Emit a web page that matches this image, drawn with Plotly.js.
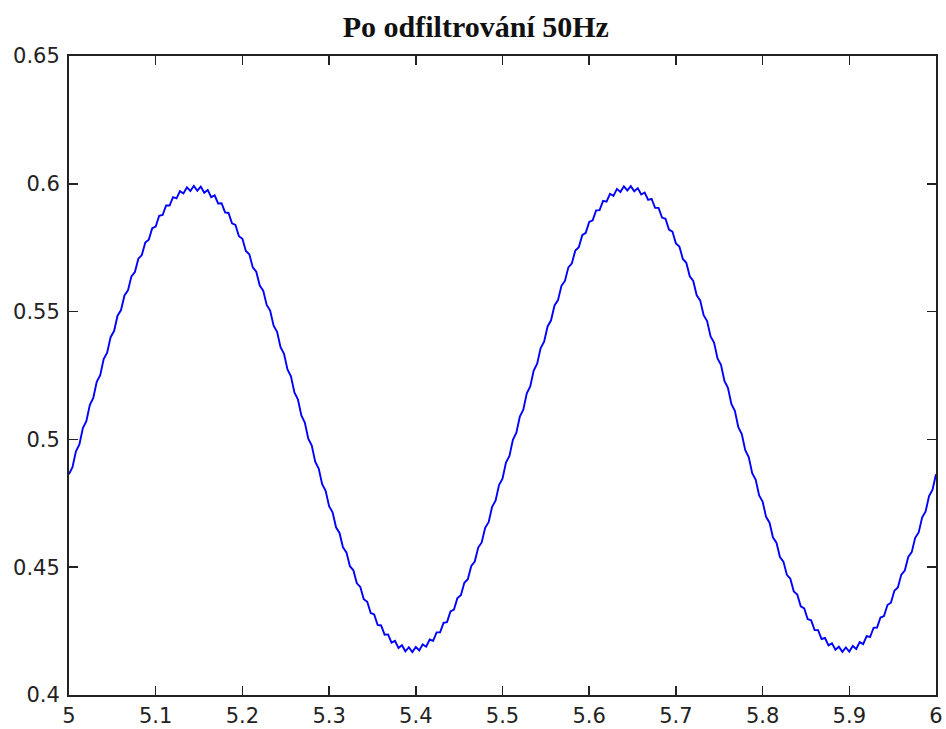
<!DOCTYPE html>
<html>
<head>
<meta charset="utf-8">
<script src="https://cdn.plot.ly/plotly-3.0.1.min.js"></script>
<style>html,body{margin:0;padding:0;background:#fff;}#chart{width:946px;height:729px;}</style>
</head>
<body>
<div id="chart"></div>
<script>
// Time axis: samples start at 5 s, one every 0.004 s
const timeStart = 5;
const timeStep = 0.004;

// Signal after filtering out 50 Hz
const signal = [
0.4864,0.4891,0.4953,0.4980,0.5044,0.5071,0.5134,0.5162,0.5225,0.5251,
0.5314,0.5339,0.5400,0.5424,0.5484,0.5506,0.5563,0.5583,0.5638,0.5655,
0.5707,0.5721,0.5770,0.5781,0.5826,0.5833,0.5875,0.5878,0.5915,0.5915,
0.5948,0.5943,0.5971,0.5962,0.5986,0.5972,0.5992,0.5973,0.5989,0.5965,
0.5976,0.5948,0.5955,0.5923,0.5924,0.5888,0.5886,0.5845,0.5839,0.5795,
0.5785,0.5737,0.5724,0.5673,0.5656,0.5602,0.5582,0.5526,0.5504,0.5445,
0.5421,0.5361,0.5335,0.5274,0.5247,0.5184,0.5157,0.5094,0.5066,0.5003,
0.4976,0.4913,0.4886,0.4825,0.4799,0.4739,0.4715,0.4656,0.4634,0.4578,
0.4558,0.4504,0.4488,0.4437,0.4423,0.4375,0.4365,0.4321,0.4315,0.4274,
0.4272,0.4236,0.4237,0.4205,0.4212,0.4184,0.4195,0.4171,0.4187,0.4168,
0.4188,0.4174,0.4198,0.4189,0.4217,0.4212,0.4245,0.4245,0.4282,0.4285,
0.4327,0.4334,0.4379,0.4390,0.4439,0.4453,0.4505,0.4522,0.4577,0.4597,
0.4654,0.4676,0.4736,0.4760,0.4821,0.4846,0.4909,0.4935,0.4998,0.5026,
0.5089,0.5116,0.5180,0.5207,0.5269,0.5296,0.5357,0.5382,0.5442,0.5466,
0.5524,0.5545,0.5601,0.5620,0.5673,0.5689,0.5739,0.5752,0.5799,0.5808,
0.5851,0.5857,0.5896,0.5897,0.5933,0.5930,0.5961,0.5953,0.5980,0.5968,
0.5990,0.5974,0.5991,0.5971,0.5983,0.5958,0.5966,0.5937,0.5941,0.5906,
0.5906,0.5868,0.5863,0.5821,0.5813,0.5767,0.5755,0.5706,0.5691,0.5638,
0.5620,0.5564,0.5544,0.5486,0.5463,0.5403,0.5379,0.5317,0.5292,0.5229,
0.5202,0.5139,0.5112,0.5048,0.5021,0.4958,0.4931,0.4868,0.4843,0.4781,
0.4757,0.4697,0.4674,0.4616,0.4596,0.4540,0.4522,0.4470,0.4455,0.4405,
0.4393,0.4347,0.4339,0.4297,0.4292,0.4254,0.4254,0.4219,0.4223,0.4194,
0.4202,0.4177,0.4189,0.4169,0.4186,0.4170,0.4192,0.4180,0.4207,0.4199,
0.4230,0.4227,0.4263,0.4264,0.4303,0.4309,0.4352,0.4361,0.4408,0.4421,
0.4471,0.4487,0.4540,0.4559,0.4615,0.4636,0.4694,0.4718,0.4778,0.4803,
0.4864
];

const xTickVals = [5, 5.1, 5.2, 5.3, 5.4, 5.5, 5.6, 5.7, 5.8, 5.9, 6];
const xTickText = ["5", "5.1", "5.2", "5.3", "5.4", "5.5", "5.6", "5.7", "5.8", "5.9", "6"];
const yTickVals = [0.4, 0.45, 0.5, 0.55, 0.6, 0.65];
const yTickText = ["0.4", "0.45", "0.5", "0.55", "0.6", "0.65"];
const titleText = "Po odfiltrování 50Hz";

const trace = {
  type: "scatter",
  mode: "lines",
  x0: timeStart,
  dx: timeStep,
  y: signal,
  line: {color: "#0000ff", width: 1.9},
  hoverinfo: "skip"
};

const axisCommon = {
  showline: true,
  linecolor: "#222",
  linewidth: 2,
  mirror: "ticks",
  ticks: "inside",
  ticklen: 9,
  tickwidth: 1.5,
  tickcolor: "#222",
  showgrid: false,
  zeroline: false,
  tickfont: {family: "DejaVu Sans, Arial, sans-serif", size: 21, color: "#222"}
};

const layout = {
  width: 946,
  height: 729,
  margin: {l: 69, r: 10, t: 56, b: 34},
  paper_bgcolor: "#ffffff",
  plot_bgcolor: "#ffffff",
  showlegend: false,
  title: {
    text: "<b>" + titleText + "</b>",
    font: {family: "Liberation Serif, Times New Roman, serif", size: 30, color: "#111"},
    x: 0.503,
    xanchor: "center",
    xref: "container",
    y: 0.963,
    yanchor: "middle",
    yref: "container"
  },
  xaxis: Object.assign({}, axisCommon, {
    range: [5, 6],
    tickmode: "array",
    tickvals: xTickVals,
    ticktext: xTickText,
    ticklabelstandoff: 1
  }),
  yaxis: Object.assign({}, axisCommon, {
    range: [0.4, 0.65],
    tickmode: "array",
    tickvals: yTickVals,
    ticktext: yTickText,
    ticklabelstandoff: 3
  })
};

Plotly.newPlot("chart", [trace], layout, {staticPlot: true, displayModeBar: false});
</script>
</body>
</html>
